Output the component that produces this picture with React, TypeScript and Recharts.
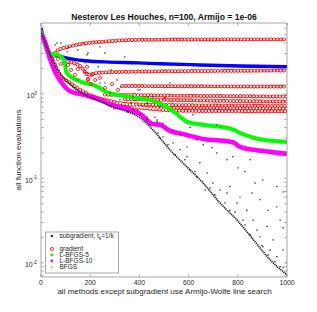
import { ComposedChart, Line, Scatter, XAxis, YAxis } from "recharts";

const FONT = '"Liberation Sans", Arial, Helvetica, sans-serif';
const AXIS = "#808080";
const TXT = "#262626";

// subgradient, t_k = 1/k
const subgradX = [0, 8, 16, 28, 41, 69, 122, 191, 260, 394, 484, 646, 809, 1000];
const subgradY = [5.9, 4.85, 4.1, 3.3, 2.97, 2.81, 2.6, 2.45, 2.39, 2.33, 2.27, 2.2, 2.14, 2.09];

// gradient: iterates plus the line search trial levels
const gradMainX = [0, 16, 37, 57, 77, 118, 159, 199, 240, 300, 360, 420, 484, 600, 800, 1000];
const gradMainY = [5.5, 4.2, 2.9, 2.2, 1.7, 1.35, 1.12, 0.97, 0.88, 0.8, 0.74, 0.68, 0.65, 0.63, 0.625, 0.62];
const gradTopX = [45, 57, 70, 110, 163, 232, 394, 600, 1000];
const gradTopY = [2.6, 3.0, 3.3, 3.6, 3.9, 4.1, 4.36, 4.4, 4.42];
const gradBX = [110, 163, 191, 232, 325, 600, 1000];
const gradBY = [2.4, 2.09, 1.68, 1.77, 1.82, 1.86, 1.89];
const gradCX = [330, 600, 1000];
const gradCY = [1.24, 1.23, 1.22];
const gradDX = [260, 600, 1000];
const gradDY = [0.98, 0.95, 0.93];
const gradEX = [340, 600, 1000];
const gradEY = [0.87, 0.84, 0.81];
const gradFX = [280, 500, 1000];
const gradFY = [0.77, 0.74, 0.72];
const gradGX = [300, 1000];
const gradGY = [0.69, 0.67];
const gradCloudX = [69, 81, 110, 122, 138, 150, 179, 191, 203, 220, 187, 207, 191, 240, 260, 289, 313];
const gradCloudY = [2.6, 2.27, 2.2, 1.92, 1.68, 1.97, 1.82, 1.5, 1.31, 1.46, 2.09, 1.68, 1.46, 1.55, 1.18, 1.31, 1.115];

// L-BFGS-5
const lbfgs5X = [0, 16, 37, 69, 89, 98, 102, 122, 163, 220, 268, 314, 382, 452, 512, 545, 593, 659, 728, 780, 809, 837, 890, 1000];
const lbfgs5Y = [5.5, 3.8, 3.0, 2.9, 2.6, 2.2, 1.82, 1.59, 1.39, 1.25, 1.05, 0.97, 0.9, 0.83, 0.7, 0.6, 0.47, 0.43, 0.41, 0.38, 0.345, 0.32, 0.29, 0.27];

// L-BFGS-10
const lbfgs10X = [0, 16, 28, 41, 57, 81, 122, 179, 240, 280, 313, 360, 402, 455, 484, 524, 585, 667, 728, 780, 809, 862, 931, 1000];
const lbfgs10Y = [5.1, 4.1, 3.1, 2.4, 1.82, 1.39, 1.06, 0.97, 0.85, 0.76, 0.71, 0.65, 0.58, 0.44, 0.43, 0.365, 0.33, 0.29, 0.28, 0.267, 0.236, 0.218, 0.206, 0.195];

// BFGS: dense lower edge and the scattered evaluations above it
const bfgsEdgeX = [0, 37, 77, 118, 159, 199, 240, 280, 321, 362, 410, 455, 524, 593, 659, 728, 797, 862, 931, 1000];
const bfgsEdgeY = [5.5, 2.9, 1.75, 1.3, 1.05, 0.92, 0.82, 0.72, 0.66, 0.6, 0.5, 0.375, 0.218, 0.137, 0.088, 0.051, 0.032, 0.019, 0.0109, 0.0072];
const bfgsX = [
  57, 81, 110, 150, 191, 260, 341, 179, 232, 285, 191, 150, 260, 325, 394, 435, 366, 394, 463, 106,
  187, 240, 65, 171, 524, 504, 280, 321, 374, 431, 240, 309, 402, 455, 484, 374, 431, 472, 496, 350,
  402, 431, 472, 496, 537, 565, 606, 634, 659, 695, 715, 728, 756, 780, 801, 829, 850, 870, 902, 858,
  890, 923, 959, 984, 959, 984, 972, 919, 943, 984, 1000, 768, 728, 675, 646, 593, 537, 496, 797, 837,
  862, 890, 931, 809, 699, 634, 756, 821, 878, 902, 959, 972, 593, 715, 618, 443, 484, 545, 585, 626,
  687, 748, 789, 829, 898, 951, 984, 667, 606, 516, 476, 565, 707, 768, 850, 923,
];
const bfgsY = [
  3.8, 4.0, 3.5, 3.3, 3.05, 3.05, 2.74, 2.33, 2.09, 1.92, 1.77, 1.46, 1.35, 1.21, 1.115, 0.92, 0.78, 0.647, 0.53, 3.14,
  2.9, 3.6, 4.0, 4.0, 1.35, 0.9, 1.03, 0.85, 0.92, 0.78, 1.35, 1.46, 1.115, 0.92, 0.7, 0.647, 0.53, 0.49, 0.45, 0.61,
  0.565, 0.49, 0.47, 0.41, 0.375, 0.33, 0.4, 0.286, 0.25, 0.23, 0.2, 0.41, 0.166, 0.18, 0.133, 0.12, 0.166, 0.088, 0.096, 0.067,
  0.056, 0.042, 0.08, 0.069, 0.046, 0.026, 0.032, 0.027, 0.0187, 0.0142, 0.01, 0.08, 0.073, 0.116, 0.153, 0.18, 0.263, 0.31, 0.051, 0.042,
  0.032, 0.0203, 0.0142, 0.06, 0.088, 0.104, 0.067, 0.032, 0.0245, 0.0155, 0.0118, 0.009, 0.236, 0.43, 0.565, 0.43, 0.3, 0.19, 0.166, 0.12,
  0.077, 0.051, 0.04, 0.028, 0.016, 0.0104, 0.0088, 0.073, 0.126, 0.25, 0.345, 0.218, 0.064, 0.042, 0.0215, 0.0124,
];

const Y_TICKS = [0.007, 0.008, 0.009, 0.01, 0.02, 0.03, 0.04, 0.05, 0.06, 0.07, 0.08, 0.09, 0.1, 0.2, 0.3, 0.4, 0.5, 0.6, 0.7, 0.8, 0.9, 1, 2, 3, 4, 5, 6];
const Y_MAJOR: Record<string, string> = { "0.01": "-2", "0.1": "-1", "1": "0" };
const X_TICKS = [0, 200, 400, 600, 800, 1000];

const pts = (xs: number[], ys: number[]) => xs.map((x, i) => ({ x, y: ys[i] }));

const redBands = [
  pts(gradMainX, gradMainY),
  pts(gradTopX, gradTopY),
  pts(gradBX, gradBY),
  pts(gradCX, gradCY),
  pts(gradDX, gradDY),
  pts(gradEX, gradEY),
  pts(gradFX, gradFY),
  pts(gradGX, gradGY),
];

function LeftTick({ x, y, payload }: any) {
  const exp = Y_MAJOR[String(payload.value)];
  return (
    <g>
      <line x1={x} x2={x + 3} y1={y} y2={y} stroke={AXIS} strokeWidth={0.6} />
      {exp !== undefined && (
        <text x={x - 4} y={y + 4.3} textAnchor="end" fontSize={7} fill={TXT} fontFamily={FONT}>
          10<tspan dy={-3.3} fontSize={4.8}>{exp}</tspan>
        </text>
      )}
    </g>
  );
}

function RightTick({ x, y }: any) {
  return <line x1={x} x2={x - 3} y1={y} y2={y} stroke={AXIS} strokeWidth={0.6} />;
}

function BottomTick({ x, y, payload }: any) {
  return (
    <g>
      <line x1={x} x2={x} y1={y} y2={y - 3} stroke={AXIS} strokeWidth={0.6} />
      <text x={x} y={y + 8} textAnchor="middle" fontSize={6.8} fill={TXT} fontFamily={FONT}>
        {payload.value}
      </text>
    </g>
  );
}

function TopTick({ x, y }: any) {
  return <line x1={x} x2={x} y1={y} y2={y + 3} stroke={AXIS} strokeWidth={0.6} />;
}

const ringLine = (data: any[], key: string, color: string, width: number) => (
  <Line
    key={key}
    data={data}
    dataKey="y"
    type="monotone"
    stroke={color}
    strokeWidth={width}
    strokeDasharray="0 3.3"
    strokeLinecap="round"
    dot={false}
    isAnimationActive={false}
    legendType="none"
  />
);

const StartCross = (p: any) =>
  p.index === 0 ? (
    <path
      key="sx"
      d={`M${p.cx - 2},${p.cy - 2}L${p.cx + 2},${p.cy + 2}M${p.cx - 2},${p.cy + 2}L${p.cx + 2},${p.cy - 2}`}
      stroke="#0000ff"
      strokeWidth={0.8}
    />
  ) : (
    <g key={`s${p.index}`} />
  );

export default function App() {
  const legendRows = [
    { label: "subgradient, t", sub: "k", tail: "=1/k", color: "#0000ff", kind: "x", y: 236 },
    { label: "gradient", color: "#ff0000", kind: "o", y: 249 },
    { label: "L-BFGS-5", color: "#00ff00", kind: "s", y: 255 },
    { label: "L-BFGS-10", color: "#ff00ff", kind: "s", y: 261 },
    { label: "BFGS", color: "#000000", kind: ".", y: 267 },
  ];
  return (
    <div style={{ position: "absolute", left: 0, top: 0, width: 317, height: 312, background: "#fff" }}>
      <ComposedChart width={317} height={312} margin={{ top: 22, right: 29, bottom: 34, left: 40 }}>
        <XAxis
          xAxisId={0}
          dataKey="x"
          type="number"
          domain={[0, 1000]}
          ticks={X_TICKS}
          interval={0}
          height={1}
          tickSize={0}
          tickMargin={0}
          tick={<BottomTick />}
          tickLine={false}
          axisLine={{ stroke: AXIS, strokeWidth: 0.7 }}
          allowDataOverflow
        />
        <XAxis
          xAxisId="t"
          orientation="top"
          dataKey="x"
          type="number"
          domain={[0, 1000]}
          ticks={X_TICKS}
          interval={0}
          height={1}
          tickSize={0}
          tickMargin={0}
          tick={<TopTick />}
          tickLine={false}
          axisLine={{ stroke: AXIS, strokeWidth: 0.7 }}
          allowDataOverflow
        />
        <YAxis
          yAxisId={0}
          dataKey="y"
          type="number"
          scale="log"
          domain={[0.0068, 6.9]}
          ticks={Y_TICKS}
          interval={0}
          width={1}
          tickSize={0}
          tickMargin={0}
          tick={<LeftTick />}
          tickLine={false}
          axisLine={{ stroke: AXIS, strokeWidth: 0.7 }}
          allowDataOverflow
        />
        <YAxis
          yAxisId="r"
          orientation="right"
          dataKey="y"
          type="number"
          scale="log"
          domain={[0.0068, 6.9]}
          ticks={Y_TICKS}
          interval={0}
          width={1}
          tickSize={0}
          tickMargin={0}
          tick={<RightTick />}
          tickLine={false}
          axisLine={{ stroke: AXIS, strokeWidth: 0.7 }}
          allowDataOverflow
        />

        <Line
          data={pts(subgradX, subgradY)}
          dataKey="y"
          type="monotone"
          stroke="#0000ff"
          strokeWidth={3.4}
          dot={StartCross}
          isAnimationActive={false}
        />

        {redBands.map((b, i) => ringLine(b, `r${i}`, "#ff0000", 3.9))}
        {redBands.map((b, i) => ringLine(b, `w${i}`, "#ffffff", 2.3))}
        <Scatter
          data={pts(gradCloudX, gradCloudY)}
          dataKey="y"
          isAnimationActive={false}
          shape={(p: any) => <circle cx={p.cx} cy={p.cy} r={1.6} fill="none" stroke="#ff0000" strokeWidth={0.8} />}
        />

        <Line
          data={pts(lbfgs5X, lbfgs5Y)}
          dataKey="y"
          type="monotone"
          stroke="#00ff00"
          strokeWidth={4}
          dot={false}
          isAnimationActive={false}
        />
        <Line
          data={pts(lbfgs10X, lbfgs10Y)}
          dataKey="y"
          type="monotone"
          stroke="#ff00ff"
          strokeWidth={4.6}
          dot={false}
          isAnimationActive={false}
        />

        <Line
          data={pts(bfgsEdgeX, bfgsEdgeY)}
          dataKey="y"
          type="monotone"
          stroke="#000000"
          strokeOpacity={0.9}
          strokeWidth={1.7}
          strokeDasharray="1.2 0.8"
          dot={false}
          isAnimationActive={false}
        />
        <Scatter
          data={pts(bfgsX, bfgsY)}
          dataKey="y"
          isAnimationActive={false}
          shape={(p: any) => <circle cx={p.cx} cy={p.cy} r={0.7} fill="#000" />}
        />
      </ComposedChart>

      <svg
        width={317}
        height={312}
        style={{ position: "absolute", left: 0, top: 0, pointerEvents: "none" }}
        fontFamily={FONT}
      >
        <text x={164} y={19.5} textAnchor="middle" fontSize={8.6} fontWeight="bold" fill="#111">
          Nesterov Les Houches, n=100, Armijo = 1e-06
        </text>
        <text x={164.5} y={293.5} textAnchor="middle" fontSize={8} fill={TXT}>
          all methods except subgradient use Armijo-Wolfe line search
        </text>
        <text x={21} y={150} textAnchor="middle" fontSize={8} fill={TXT} transform="rotate(-90 21 150)">
          all function evaluations
        </text>

        <rect x={45.5} y={232} width={73} height={41} fill="#fff" stroke={AXIS} strokeWidth={0.7} />
        {legendRows.map((r) => (
          <g key={r.label}>
            {r.kind === "x" && <rect x={50.8} y={r.y - 1} width={2} height={2} fill={r.color} />}
            {r.kind === "o" && <circle cx={51.8} cy={r.y} r={1.6} fill="none" stroke={r.color} strokeWidth={0.8} />}
            {r.kind === "s" && <circle cx={51.8} cy={r.y} r={1.4} fill={r.color} />}
            {r.kind === "." && <circle cx={51.8} cy={r.y} r={0.6} fill={r.color} />}
            <text x={59.5} y={r.y + 2.2} fontSize={6.5} fill={TXT}>
              {r.label}
              {r.sub && (
                <>
                  <tspan dy={1.6} fontSize={4.6}>{r.sub}</tspan>
                  <tspan dy={-1.6}>{r.tail}</tspan>
                </>
              )}
            </text>
          </g>
        ))}
      </svg>
    </div>
  );
}
